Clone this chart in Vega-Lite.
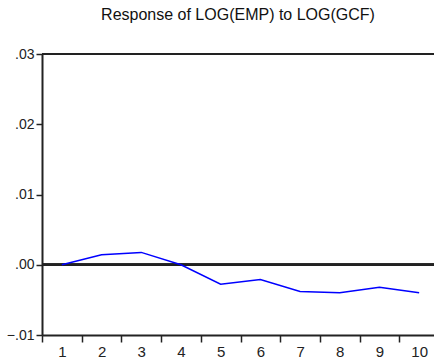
{
  "$schema": "https://vega.github.io/schema/vega-lite/v6.json",
  "width": 392,
  "height": 281,
  "padding": {"left": 6, "top": 7, "right": 0, "bottom": 0},
  "background": "white",
  "config": {
    "view": {"stroke": null},
    "font": "Liberation Sans, Arial, sans-serif"
  },
  "title": {
    "text": "Response of LOG(EMP) to LOG(GCF)",
    "fontSize": 16,
    "fontWeight": "normal",
    "color": "#111111",
    "anchor": "middle",
    "offset": 24
  },
  "data": {
    "values": [
      {"period": 1, "response": 0.0},
      {"period": 2, "response": 0.00143},
      {"period": 3, "response": 0.00176},
      {"period": 4, "response": 0.0},
      {"period": 5, "response": -0.00276},
      {"period": 6, "response": -0.0021},
      {"period": 7, "response": -0.0038},
      {"period": 8, "response": -0.004},
      {"period": 9, "response": -0.0032},
      {"period": 10, "response": -0.004}
    ]
  },
  "layer": [
    {
      "mark": {"type": "rule", "color": "#222222", "strokeWidth": 2},
      "encoding": {"y": {"datum": 0.03, "type": "quantitative"}}
    },
    {
      "mark": {"type": "rule", "color": "#222222", "strokeWidth": 2},
      "encoding": {"y": {"datum": 0, "type": "quantitative"}}
    },
    {
      "mark": {"type": "line", "color": "#0000FF", "strokeWidth": 1.5},
      "encoding": {
        "x": {
          "field": "period",
          "type": "quantitative",
          "scale": {"domain": [0.5, 10.374], "nice": false, "zero": false},
          "axis": {
            "title": null,
            "values": [1, 2, 3, 4, 5, 6, 7, 8, 9, 10],
            "format": "d",
            "grid": false,
            "tickOffset": -19.85,
            "labelOffset": 19.85,
            "tickSize": 7,
            "tickWidth": 1.5,
            "tickColor": "#222222",
            "domainColor": "#222222",
            "domainWidth": 2,
            "labelFontSize": 15,
            "labelColor": "#222222",
            "labelPadding": 2,
            "labelFlush": false,
            "labelOverlap": false
          }
        },
        "y": {
          "field": "response",
          "type": "quantitative",
          "scale": {"domain": [-0.01, 0.03], "nice": false, "zero": false},
          "axis": {
            "title": null,
            "values": [-0.01, 0, 0.01, 0.02, 0.03],
            "labelExpr": "replace(format(datum.value, '.2f'), '0.', '.')",
            "grid": false,
            "tickSize": 6,
            "tickWidth": 1.5,
            "tickColor": "#222222",
            "domainColor": "#222222",
            "domainWidth": 2,
            "labelFontSize": 14,
            "labelColor": "#222222",
            "labelPadding": 2,
            "labelFlush": false
          }
        }
      }
    }
  ]
}
